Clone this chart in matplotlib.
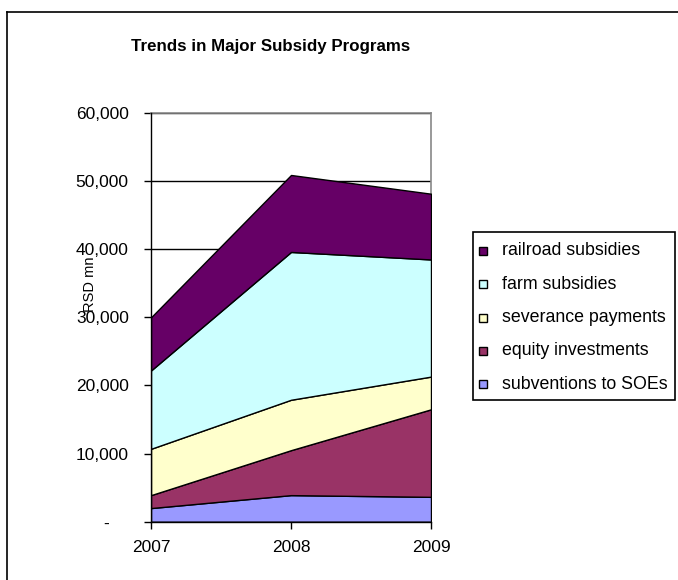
import matplotlib
matplotlib.use("Agg")
import matplotlib.pyplot as plt
from matplotlib.patches import Rectangle
from matplotlib.lines import Line2D
from matplotlib.ticker import FuncFormatter, MultipleLocator

# ---------------------------------------------------------------
# DADOS (RSD mn)
# ---------------------------------------------------------------
anos = ["2007", "2008", "2009"]
subventions = [2000, 3900, 3650]
equity      = [1900, 6600, 12850]
severance   = [6800, 7400, 4800]
farm        = [11500, 21700, 17200]
railroad    = [7800, 11300, 9650]

series = [subventions, equity, severance, farm, railroad]
nomes  = ["subventions to SOEs", "equity investments", "severance payments",
          "farm subsidies", "railroad subsidies"]
cores  = ["#9999FF", "#993366", "#FFFFCC", "#CCFFFF", "#660066"]

W, H = 678, 580
FS = 12.5
plt.rcParams["font.family"] = ["Liberation Sans", "DejaVu Sans"]

fig = plt.figure(figsize=(W / 100, H / 100), dpi=100)

# borda externa do gráfico (cortada à direita e embaixo)
fig.add_artist(Line2D([7 / W, 1], [1 - 12 / H, 1 - 12 / H], color="black", lw=1.2))
fig.add_artist(Line2D([7 / W, 7 / W], [0, 1 - 12 / H], color="black", lw=1.2))

ax = fig.add_axes([151 / W, 1 - 521.7 / H, 280 / W, 408.7 / H])
x = list(range(len(anos)))
ax.stackplot(x, *series, colors=cores, edgecolor="black", linewidth=1.0, zorder=3)

ax.set_xlim(0, len(anos) - 1)
ax.set_ylim(0, 60000)
ax.yaxis.set_major_locator(MultipleLocator(10000))
ax.yaxis.set_major_formatter(FuncFormatter(
    lambda v, p: "-    " if v == 0 else f"{v:,.0f}"))
ax.set_xticks(x)
ax.set_xticklabels(anos)
ax.grid(axis="y", color="black", lw=1.0, zorder=1)
ax.set_axisbelow(True)

ax.tick_params(axis="both", direction="out", length=5, width=1.0,
               labelsize=FS, colors="black")
ax.tick_params(axis="y", pad=11)
ax.tick_params(axis="x", pad=8)
for s in ("left", "bottom"):
    ax.spines[s].set_color("black")
    ax.spines[s].set_linewidth(1.0)
for s in ("top", "right"):
    ax.spines[s].set_color("#888888")
    ax.spines[s].set_linewidth(1.2)
ax.spines["left"].set_zorder(5)
ax.spines["bottom"].set_zorder(5)

# no Excel o título do eixo fica entre os rótulos 40,000 e 30,000
ax.set_ylabel("RSD mn", fontsize=10.5)
ax.yaxis.set_label_coords(-0.193, 0.58)

fig.text(271 / W, 1 - 47 / H, "Trends in Major Subsidy Programs",
         ha="center", va="center", fontsize=12.2, fontweight="bold")

# legenda (ordem invertida, como no Excel)
lx0, ly0, lx1, ly1 = 472.7, 231.7, 675, 400
fig.add_artist(Rectangle((lx0 / W, 1 - ly1 / H), (lx1 - lx0) / W, (ly1 - ly0) / H,
                         facecolor="white", edgecolor="black", lw=1.2))
for i, (nome, cor) in enumerate(zip(nomes[::-1], cores[::-1])):
    yc = 250.7 + i * 33.4
    fig.add_artist(Rectangle((479 / W, 1 - (yc + 4) / H), 8 / W, 8 / H,
                             facecolor=cor, edgecolor="black", lw=1.0))
    fig.text(501.7 / W, 1 - yc / H, nome, ha="left", va="center", fontsize=12.8)

fig.savefig("out.png", dpi=100)
